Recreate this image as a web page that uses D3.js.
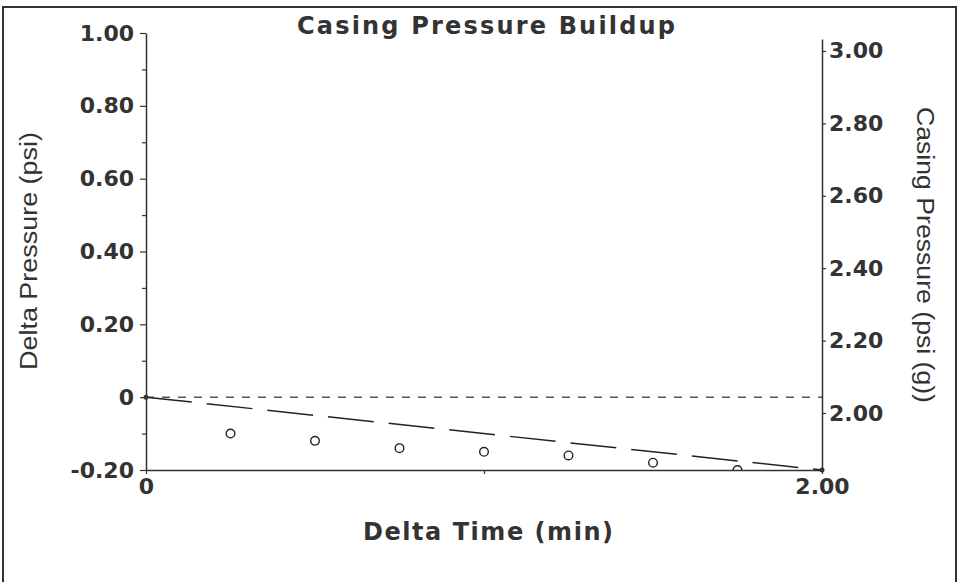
<!DOCTYPE html>
<html>
<head>
<meta charset="utf-8">
<script src="https://cdn.jsdelivr.net/npm/d3@7"></script>
<style>
  body { margin: 0; background: #fff; }
  svg { display: block; }
</style>
</head>
<body>
<script>
// measured data (delta time in min, delta pressure in psi)
var times = [0.25, 0.5, 0.75, 1.0, 1.25, 1.5, 1.75]
var deltaP = [-0.10, -0.12, -0.14, -0.15, -0.16, -0.18, -0.20]
var trendT = [0, 2.0]
var trendP = [0, -0.20]
var leftTicks = [-0.2, 0, 0.2, 0.4, 0.6, 0.8, 1.0]
var leftMinor = [-0.1, 0.1, 0.3, 0.5, 0.7, 0.9]
var rightTicks = [2.0, 2.2, 2.4, 2.6, 2.8, 3.0]
var xTicks = [0, 1, 2]

var W = 960, H = 582
var plotL = 146, plotR = 822, plotT = 33, plotB = 470
var ink = '#333'

var x = d3.scaleLinear().domain([0, 2]).range([plotL, plotR])
var y = d3.scaleLinear().domain([-0.2, 1.0]).range([plotB, plotT])
var yR = d3.scaleLinear().domain([1.8425, 3.033]).range([plotB, 39])

var svg = d3.select('body').append('svg')
  .attr('width', W)
  .attr('height', H)

// page frame
svg.append('rect')
  .attr('x', 3).attr('y', 7)
  .attr('width', 953).attr('height', 600)
  .attr('fill', 'none')
  .attr('stroke', ink)
  .attr('stroke-width', 2)

svg.append('clipPath').attr('id', 'plot')
  .append('rect')
  .attr('x', plotL).attr('y', plotT)
  .attr('width', plotR - plotL).attr('height', plotB - plotT)

function styleAxis (g) {
  g.select('.domain').attr('stroke', ink).attr('stroke-width', 1.5)
  g.selectAll('.tick line').attr('stroke', ink).attr('stroke-width', 1.2)
  g.selectAll('.tick text')
    .attr('fill', ink)
    .style('font-family', '"DejaVu Sans", Verdana, sans-serif')
    .style('font-weight', 'bold')
    .style('font-size', '22px')
}

var fmt = function (d) { return d === 0 ? '0' : d3.format('.2f')(d).replace('\u2212', '-') }

// left axis
svg.append('g')
  .attr('transform', `translate(${plotL}, 0)`)
  .call(d3.axisLeft(y).tickValues(leftTicks).tickSize(6).tickSizeOuter(0).tickPadding(6).tickFormat(fmt))
  .call(styleAxis)

svg.append('g')
  .attr('transform', `translate(${plotL}, 0)`)
  .call(d3.axisLeft(y).tickValues(leftMinor).tickSize(4).tickFormat(''))
  .call(styleAxis)
  .call(g => g.select('.domain').remove())

// right axis
svg.append('g')
  .attr('transform', `translate(${plotR}, 0)`)
  .call(d3.axisRight(yR).tickValues(rightTicks).tickSize(4).tickSizeOuter(0).tickPadding(3).tickFormat(d3.format('.2f')))
  .call(styleAxis)

// bottom axis
svg.append('g')
  .attr('transform', `translate(0, ${plotB})`)
  .call(d3.axisBottom(x).tickValues(xTicks).tickSize(4).tickSizeOuter(0).tickPadding(4)
    .tickFormat(d => d === 0 ? '0' : d === 2 ? '2.00' : ''))
  .call(styleAxis)

// zero reference line
svg.append('line')
  .attr('x1', x(0)).attr('x2', x(2))
  .attr('y1', y(0)).attr('y2', y(0))
  .attr('stroke', '#555')
  .attr('stroke-width', 1.5)
  .attr('stroke-dasharray', '8,8')

// trend line
var line = d3.line().x(d => x(d[0])).y(d => y(d[1]))
svg.append('path')
  .datum(d3.zip(trendT, trendP))
  .attr('d', line)
  .attr('fill', 'none')
  .attr('stroke', '#222')
  .attr('stroke-width', 1.5)
  .attr('stroke-dasharray', '46,15')

svg.selectAll('.end')
  .data(d3.zip(trendT, trendP))
  .enter().append('circle')
  .attr('class', 'end')
  .attr('cx', d => x(d[0]))
  .attr('cy', d => y(d[1]))
  .attr('r', 2.5)
  .attr('fill', '#333')

// data points
svg.append('g')
  .attr('clip-path', 'url(#plot)')
  .selectAll('circle')
  .data(d3.zip(times, deltaP))
  .enter().append('circle')
  .attr('cx', d => x(d[0]))
  .attr('cy', d => y(d[1]))
  .attr('r', 4.3)
  .attr('fill', 'none')
  .attr('stroke', '#222')
  .attr('stroke-width', 1.4)

// titles
svg.append('text')
  .attr('x', 486).attr('y', 34)
  .attr('text-anchor', 'middle')
  .attr('textLength', 378)
  .attr('lengthAdjust', 'spacing')
  .attr('fill', ink)
  .style('font-family', '"DejaVu Sans", Verdana, sans-serif')
  .style('font-weight', 'bold')
  .style('font-size', '24px')
  .text('Casing Pressure Buildup')

svg.append('text')
  .attr('x', 488).attr('y', 540)
  .attr('text-anchor', 'middle')
  .attr('textLength', 250)
  .attr('lengthAdjust', 'spacing')
  .attr('fill', ink)
  .style('font-family', '"DejaVu Sans", Verdana, sans-serif')
  .style('font-weight', 'bold')
  .style('font-size', '24px')
  .text('Delta Time (min)')

svg.append('text')
  .attr('transform', 'translate(37, 251) rotate(-90)')
  .attr('text-anchor', 'middle')
  .attr('textLength', 238)
  .attr('lengthAdjust', 'spacingAndGlyphs')
  .attr('fill', ink)
  .style('font-family', '"Liberation Sans", Arial, sans-serif')
  .style('font-size', '23px')
  .text('Delta Pressure (psi)')

svg.append('text')
  .attr('transform', 'translate(917, 255) rotate(90)')
  .attr('text-anchor', 'middle')
  .attr('textLength', 296)
  .attr('lengthAdjust', 'spacingAndGlyphs')
  .attr('fill', ink)
  .style('font-family', '"Liberation Sans", Arial, sans-serif')
  .style('font-size', '23px')
  .text('Casing Pressure (psi (g))')
</script>
</body>
</html>
